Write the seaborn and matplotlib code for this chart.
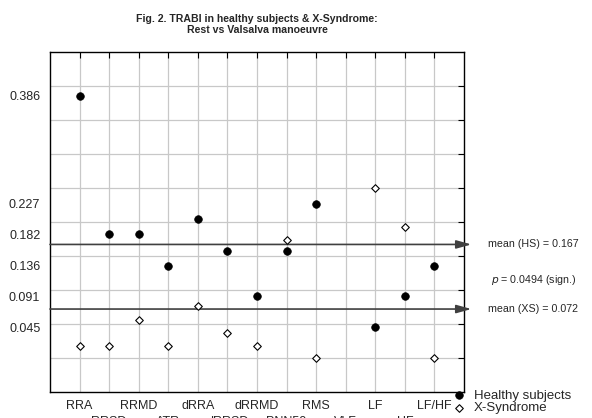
import numpy as np
import pandas as pd
import matplotlib
matplotlib.use("Agg")
import matplotlib.pyplot as plt
import seaborn as sns

categories = ["RRA", "RRSD", "RRMD", "ATR", "dRRA", "dRRSD", "dRRMD",
              "PNN50", "RMS", "VLF", "LF", "HF", "LF/HF"]
healthy = [0.386, 0.182, 0.182, 0.136, 0.204, 0.158, 0.091,
           0.158, 0.227, np.nan, 0.045, 0.091, 0.136]
xsyndrome = [0.018, 0.018, 0.056, 0.018, 0.076, 0.037, 0.018,
             0.173, 0.0, np.nan, 0.250, 0.192, 0.0]
ytick_labels = [0.045, 0.091, 0.136, 0.182, 0.227, 0.386]
mean_hs = 0.167
mean_xs = 0.072
p_value = "0.0494"

sns.set_style("white")
plt.rcParams["font.family"] = ["Liberation Sans", "DejaVu Sans"]

pos = np.arange(len(categories))
df = pd.DataFrame({
    "pos": np.concatenate([pos, pos]),
    "value": healthy + xsyndrome,
    "group": ["Healthy subjects"] * len(pos) + ["X-Syndrome"] * len(pos),
})

fig = plt.figure(figsize=(5.92, 4.18), dpi=100)
ax = fig.add_axes([50 / 592, 1 - 392 / 418, (464 - 50) / 592, (392 - 52) / 418])

hs = df[df.group == "Healthy subjects"]
xs = df[df.group == "X-Syndrome"]
sns.scatterplot(data=hs, x="pos", y="value", ax=ax, color="black", marker="o",
                s=30, edgecolor="black", linewidth=0.5, zorder=4,
                label="Healthy subjects")
sns.scatterplot(data=xs, x="pos", y="value", ax=ax, color="white", marker="D",
                s=15, edgecolor="black", linewidth=0.8, zorder=4,
                label="X-Syndrome")

ax.set_xlim(-1, len(categories))
ax.set_ylim(-0.05, 0.45)

# x ticks: two rows of labels
ax.set_xticks(pos)
xl = [c if i % 2 == 0 else "\n" + c for i, c in enumerate(categories)]
ax.set_xticklabels(xl, fontsize=9)
for i, t in enumerate(ax.get_xticklabels()):
    if i % 2 == 1:
        t.set_linespacing(1.45)
ax.set_xlabel("")
ax.set_ylabel("")

# y: gridlines at 0.05 multiples, labels at specific values
ax.set_yticks(np.arange(0, 0.401, 0.05))
ax.set_yticklabels([])
ax.set_yticks(ytick_labels, minor=True)
ax.set_yticklabels([f"{v:.3f}" for v in ytick_labels], minor=True, fontsize=9)
ax.tick_params(axis="y", which="minor", length=0, pad=7)
ax.tick_params(axis="both", which="major", direction="in", length=4,
               width=0.8, top=True, right=True, color="black")
ax.tick_params(axis="x", which="major", pad=6)

ax.grid(True, which="major", color="#c8c8c8", linewidth=0.9)
ax.set_axisbelow(True)
for s in ax.spines.values():
    s.set_visible(True)
    s.set_color("black")
    s.set_linewidth(1.0)

# mean lines with arrows
for m in (mean_hs, mean_xs):
    ax.annotate("", xy=(len(categories) + 0.25, m), xytext=(-1, m),
                xycoords="data", textcoords="data", annotation_clip=False,
                arrowprops=dict(arrowstyle="-|>,head_length=0.9,head_width=0.25",
                                color="#404040", lw=1.2, shrinkA=0, shrinkB=0),
                zorder=3)

fig.text(488 / 592, 1 - 244 / 418, f"mean (HS) = {mean_hs:.3f}", fontsize=7.7,
         va="center", ha="left")
fig.text(491 / 592, 1 - 280 / 418, r"$\it{p}$" + f" = {p_value} (sign.)",
         fontsize=7.7, va="center", ha="left")
fig.text(488 / 592, 1 - 309 / 418, f"mean (XS) = {mean_xs:.3f}", fontsize=7.7,
         va="center", ha="left")

fig.suptitle("Fig. 2. TRABI in healthy subjects & X-Syndrome:\nRest vs Valsalva manoeuvre",
             x=257 / 592, y=1 - 14 / 418, fontsize=7.6, fontweight="bold",
             va="top", linespacing=1.15)

leg = ax.legend(loc="upper left", bbox_to_anchor=(446 / 592, 1 - 384 / 418),
                bbox_transform=fig.transFigure, frameon=False, fontsize=9.5,
                handletextpad=0.5, borderaxespad=0, labelspacing=0.05,
                handlelength=1.2)

fig.savefig("out.png", dpi=100)
